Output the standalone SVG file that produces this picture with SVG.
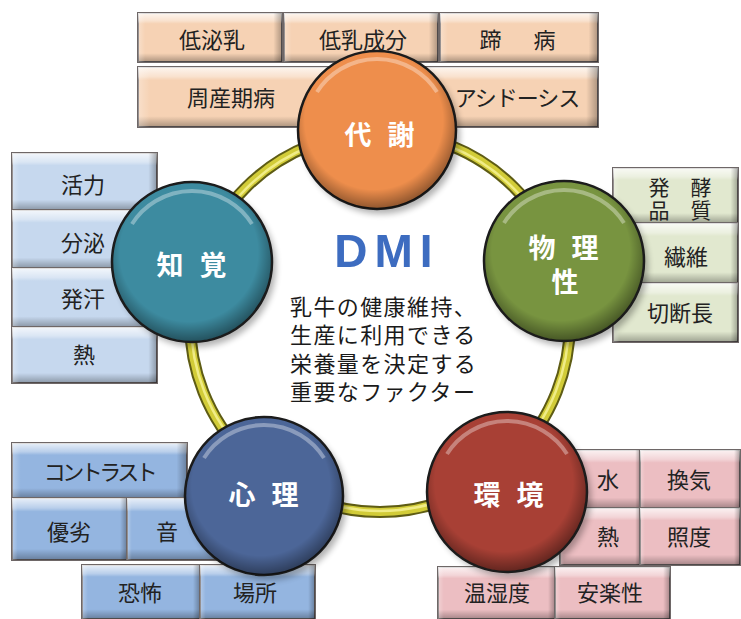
<svg xmlns="http://www.w3.org/2000/svg" xmlns:xlink="http://www.w3.org/1999/xlink" width="741" height="619" viewBox="0 0 741 619">
<defs>
<style>
.box{stroke:#6e6767;stroke-width:2}
.peach{fill:#f6d2b4}.lblue{fill:#c6d8ee}.green{fill:#e1e8cf}.blue{fill:#94b5e0}.pink{fill:#ecbec2}
.bv{fill:url(#bevV);stroke:none}.bh{fill:url(#bevH);stroke:none}
.bt{font-family:"Noto Sans CJK JP","Noto Sans CJK SC",sans-serif;font-size:22px;fill:#222;text-anchor:middle}
.ct{font-family:"Noto Sans CJK JP","Noto Sans CJK SC",sans-serif;font-size:27px;font-weight:bold;fill:#fff;text-anchor:middle;letter-spacing:5px}
.rim{stroke:#1c1c1c;stroke-width:2.5}
.shadow{fill:#000;opacity:0.3;filter:url(#blur)}
.mid{font-family:"Noto Sans CJK JP","Noto Sans CJK SC",sans-serif;font-size:22px;fill:#1a1a1a;letter-spacing:1.4px}
</style>
<linearGradient id="bevV" x1="0" y1="0" x2="0" y2="1">
<stop offset="0" stop-color="#fff" stop-opacity="0.8"/>
<stop offset="0.16" stop-color="#fff" stop-opacity="0.35"/>
<stop offset="0.22" stop-color="#fff" stop-opacity="0"/>
<stop offset="0.82" stop-color="#000" stop-opacity="0"/>
<stop offset="1" stop-color="#000" stop-opacity="0.3"/>
</linearGradient>
<linearGradient id="bevH" x1="0" y1="0" x2="1" y2="0">
<stop offset="0" stop-color="#fff" stop-opacity="0.3"/>
<stop offset="0.05" stop-color="#fff" stop-opacity="0"/>
<stop offset="0.94" stop-color="#000" stop-opacity="0"/>
<stop offset="1" stop-color="#000" stop-opacity="0.3"/>
</linearGradient>
<radialGradient id="shade" cx="0.48" cy="0.44" r="0.56">
<stop offset="0.78" stop-color="#000" stop-opacity="0"/>
<stop offset="1" stop-color="#000" stop-opacity="0.4"/>
</radialGradient>
<filter id="blur" x="-20%" y="-20%" width="140%" height="140%"><feGaussianBlur stdDeviation="3"/></filter>
<filter id="soft"><feGaussianBlur stdDeviation="0.6"/></filter>
<g id="gloss">
<circle r="79" fill="url(#shade)"/>
<path d="M -60,-38 A 71 71 0 0 1 60,-38" fill="none" stroke="#fff" stroke-opacity="0.35" stroke-width="4"/>
</g>
</defs>
<rect width="741" height="619" fill="#fff"/>

<!-- top boxes (代謝) -->
<g id="box-teihinyu"><rect class="box peach" x="138" y="13" width="144" height="49"/><rect class="bv" x="138" y="13" width="144" height="49"/><rect class="bh" x="138" y="13" width="144" height="49"/><text class="bt" x="212" y="48">低泌乳</text></g>
<g id="box-teinyuseibun"><rect class="box peach" x="284" y="13" width="154" height="49"/><rect class="bv" x="284" y="13" width="154" height="49"/><rect class="bh" x="284" y="13" width="154" height="49"/><text class="bt" x="363" y="48">低乳成分</text></g>
<g id="box-teibyo"><rect class="box peach" x="440" y="13" width="158" height="49"/><rect class="bv" x="440" y="13" width="158" height="49"/><rect class="bh" x="440" y="13" width="158" height="49"/><text class="bt" x="520" y="48" style="letter-spacing:5px">蹄　病</text></g>
<g id="box-shusanki"><rect class="box peach" x="138" y="67" width="240" height="60"/><rect class="bv" x="138" y="67" width="240" height="60"/><rect class="bh" x="138" y="67" width="240" height="60"/><text class="bt" x="231" y="106">周産期病</text></g>
<g id="box-acidosis"><rect class="box peach" x="400" y="67" width="198" height="60"/><rect class="bv" x="400" y="67" width="198" height="60"/><rect class="bh" x="400" y="67" width="198" height="60"/><text class="bt" x="517" y="106" style="letter-spacing:-1px">アシドーシス</text></g>

<!-- left boxes (知覚) -->
<g id="box-katsuryoku"><rect class="box lblue" x="12" y="153" width="145" height="57"/><rect class="bv" x="12" y="153" width="145" height="57"/><rect class="bh" x="12" y="153" width="145" height="57"/><text class="bt" x="83" y="193">活力</text></g>
<g id="box-bunpi"><rect class="box lblue" x="12" y="210" width="145" height="58"/><rect class="bv" x="12" y="210" width="145" height="58"/><rect class="bh" x="12" y="210" width="145" height="58"/><text class="bt" x="83" y="251">分泌</text></g>
<g id="box-hakkan"><rect class="box lblue" x="12" y="268" width="145" height="59"/><rect class="bv" x="12" y="268" width="145" height="59"/><rect class="bh" x="12" y="268" width="145" height="59"/><text class="bt" x="83" y="307">発汗</text></g>
<g id="box-netsu1"><rect class="box lblue" x="12" y="327" width="145" height="56"/><rect class="bv" x="12" y="327" width="145" height="56"/><rect class="bh" x="12" y="327" width="145" height="56"/><text class="bt" x="84" y="363">熱</text></g>

<!-- right boxes (物理性) -->
<g id="box-hakko"><rect class="box green" x="613" y="168" width="125" height="55"/><rect class="bv" x="613" y="168" width="125" height="55"/><rect class="bh" x="613" y="168" width="125" height="55"/><text class="bt" x="680" y="195" style="font-size:21px">発　酵</text><text class="bt" x="680" y="218" style="font-size:21px">品　質</text></g>
<g id="box-sen-i"><rect class="box green" x="613" y="223" width="125" height="60"/><rect class="bv" x="613" y="223" width="125" height="60"/><rect class="bh" x="613" y="223" width="125" height="60"/><text class="bt" x="686" y="265">繊維</text></g>
<g id="box-setsudan"><rect class="box green" x="613" y="283" width="125" height="59"/><rect class="bv" x="613" y="283" width="125" height="59"/><rect class="bh" x="613" y="283" width="125" height="59"/><text class="bt" x="680" y="321">切断長</text></g>

<!-- bottom-left boxes (心理) -->
<g id="box-contrast"><rect class="box blue" x="12" y="443" width="175" height="55"/><rect class="bv" x="12" y="443" width="175" height="55"/><rect class="bh" x="12" y="443" width="175" height="55"/><text class="bt" x="99" y="480" style="letter-spacing:-3.5px">コントラスト</text></g>
<g id="box-yuretsu"><rect class="box blue" x="12" y="498" width="115" height="62"/><rect class="bv" x="12" y="498" width="115" height="62"/><rect class="bh" x="12" y="498" width="115" height="62"/><text class="bt" x="69" y="540">優劣</text></g>
<g id="box-oto"><rect class="box blue" x="127" y="498" width="95" height="62"/><rect class="bv" x="127" y="498" width="95" height="62"/><rect class="bh" x="127" y="498" width="95" height="62"/><text class="bt" x="167" y="540">音</text></g>
<g id="box-kyofu"><rect class="box blue" x="82" y="565" width="118" height="54"/><rect class="bv" x="82" y="565" width="118" height="54"/><rect class="bh" x="82" y="565" width="118" height="54"/><text class="bt" x="140" y="601">恐怖</text></g>
<g id="box-basho"><rect class="box blue" x="200" y="565" width="115" height="54"/><rect class="bv" x="200" y="565" width="115" height="54"/><rect class="bh" x="200" y="565" width="115" height="54"/><text class="bt" x="255" y="601">場所</text></g>

<!-- bottom-right boxes (環境) -->
<g id="box-mizu"><rect class="box pink" x="560" y="450" width="80" height="58"/><rect class="bv" x="560" y="450" width="80" height="58"/><rect class="bh" x="560" y="450" width="80" height="58"/><text class="bt" x="608" y="488">水</text></g>
<g id="box-kanki"><rect class="box pink" x="640" y="450" width="100" height="58"/><rect class="bv" x="640" y="450" width="100" height="58"/><rect class="bh" x="640" y="450" width="100" height="58"/><text class="bt" x="689" y="488">換気</text></g>
<g id="box-netsu2"><rect class="box pink" x="560" y="508" width="80" height="57"/><rect class="bv" x="560" y="508" width="80" height="57"/><rect class="bh" x="560" y="508" width="80" height="57"/><text class="bt" x="608" y="545">熱</text></g>
<g id="box-shodo"><rect class="box pink" x="640" y="508" width="100" height="57"/><rect class="bv" x="640" y="508" width="100" height="57"/><rect class="bh" x="640" y="508" width="100" height="57"/><text class="bt" x="689" y="545">照度</text></g>
<g id="box-onshitsudo"><rect class="box pink" x="438" y="567" width="117" height="52"/><rect class="bv" x="438" y="567" width="117" height="52"/><rect class="bh" x="438" y="567" width="117" height="52"/><text class="bt" x="497" y="601">温湿度</text></g>
<g id="box-anrakusei"><rect class="box pink" x="555" y="567" width="115" height="52"/><rect class="bv" x="555" y="567" width="115" height="52"/><rect class="bh" x="555" y="567" width="115" height="52"/><text class="bt" x="610" y="601">安楽性</text></g>

<!-- ring connector -->
<g id="connectors" fill="none">
<circle cx="380" cy="322" r="190" stroke="#5e5c14" stroke-width="12"/>
<circle cx="380" cy="322" r="190" stroke="#d2cc38" stroke-width="8"/>
<circle cx="380" cy="322" r="189" stroke="#f0ec86" stroke-width="2.5"/>
</g>

<!-- center text -->
<g id="center">
<text x="387" y="267" font-family="Liberation Sans, Arial, sans-serif" font-size="46" font-weight="bold" fill="#3c6cc0" text-anchor="middle" letter-spacing="7" filter="url(#soft)">DMI</text>
<text class="mid" x="290" y="315">乳牛の健康維持、</text>
<text class="mid" x="290" y="343">生産に利用できる</text>
<text class="mid" x="290" y="372">栄養量を決定する</text>
<text class="mid" x="290" y="400">重要なファクター</text>
</g>

<!-- circle nodes -->
<g id="node-taisha">
<circle class="shadow" cx="381" cy="135" r="79"/>
<circle class="rim" cx="377" cy="130" r="79" fill="#ee8e4c"/>
<use xlink:href="#gloss" x="377" y="130"/>
<text class="ct" x="382" y="145">代 謝</text>
</g>
<g id="node-chikaku">
<circle class="shadow" cx="196" cy="267" r="80"/>
<circle class="rim" cx="192" cy="262" r="80" fill="#3d8ba0"/>
<use xlink:href="#gloss" x="192" y="262"/>
<text class="ct" x="194" y="275">知 覚</text>
</g>
<g id="node-butsurisei">
<circle class="shadow" cx="568" cy="266" r="80"/>
<circle class="rim" cx="564" cy="261" r="80" fill="#789440"/>
<use xlink:href="#gloss" x="564" y="261"/>
<text class="ct" x="566" y="258">物 理</text>
<text class="ct" x="565" y="292" style="letter-spacing:0">性</text>
</g>
<g id="node-shinri">
<circle class="shadow" cx="268" cy="501" r="79"/>
<circle class="rim" cx="264" cy="496" r="79" fill="#4c6698"/>
<use xlink:href="#gloss" x="264" y="496"/>
<text class="ct" x="266" y="505">心 理</text>
</g>
<g id="node-kankyo">
<circle class="shadow" cx="511" cy="497" r="80"/>
<circle class="rim" cx="507" cy="492" r="80" fill="#a84035"/>
<use xlink:href="#gloss" x="507" y="492"/>
<text class="ct" x="511" y="505">環 境</text>
</g>
</svg>
